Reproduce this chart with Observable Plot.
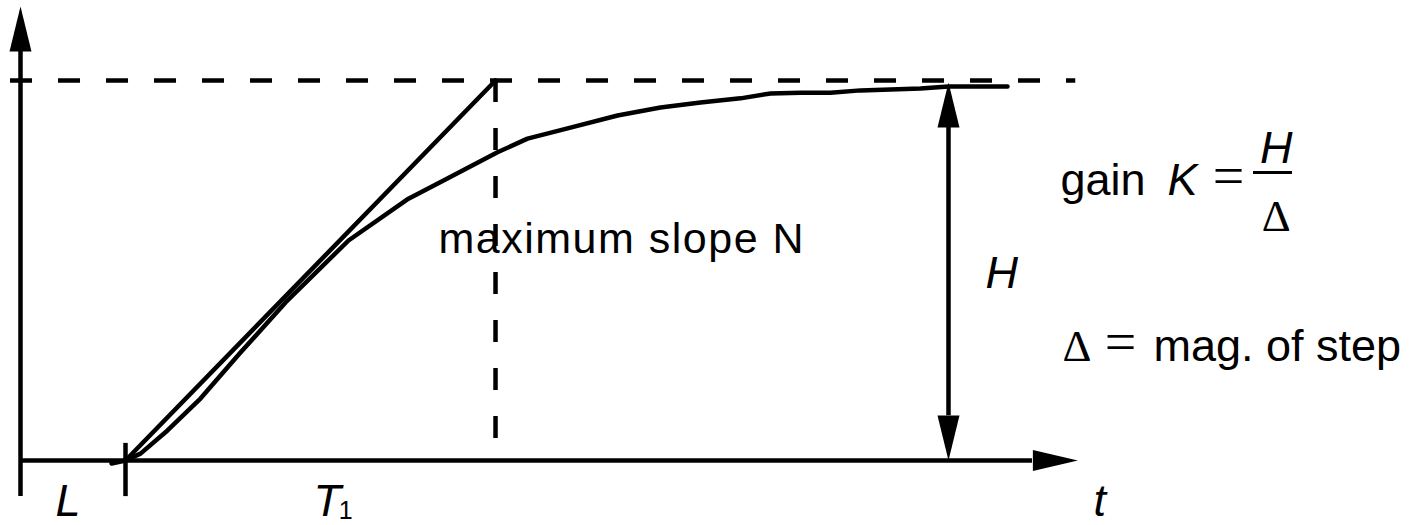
<!DOCTYPE html>
<html><head><meta charset="utf-8">
<script src="https://cdn.jsdelivr.net/npm/d3@7"></script>
<script src="https://cdn.jsdelivr.net/npm/@observablehq/plot@0.6"></script>
<style>body{margin:0;background:#fff}svg{display:block}</style>
</head><body><div id="chart"></div>
<script>
// ---- data (time t, response v; H = 1) ----
const lagL = 1.0;          // dead time L
const tangentEnd = 4.524;  // L + T1
const gainH = 1.0;         // final value H
const hMarkerT = 8.838;    // where the H double arrow sits
const curveT = [0.867, 1.0, 1.143, 1.4, 1.714, 2.095, 2.524, 3.124, 3.695, 4.029, 4.543, 4.829, 5.238, 5.686, 6.095, 6.476, 6.857, 7.143, 7.429, 7.714, 8.0, 8.571, 8.838, 9.4];
const curveV = [-0.008, 0, 0.018, 0.079, 0.163, 0.284, 0.416, 0.579, 0.689, 0.737, 0.811, 0.847, 0.876, 0.908, 0.929, 0.942, 0.953, 0.966, 0.968, 0.968, 0.974, 0.979, 0.984, 0.984];
const tangentT = [lagL, tangentEnd];
const tangentV = [0, gainH];
const axisTEnd = 9.638, axisTTip = 10.07;
const axisVEnd = 1.076, axisVTip = 1.195, axisVBottom = -0.095;
const labelTexts = ["maximum slope N", "gain", "K", "=", "H", "Δ", "H", "Δ", "=", "mag. of step", "L", "T", "1", "t"];

// ---- helpers ----
const curve = curveT.map((t, i) => ({t, v: curveV[i]}));
const tangent = tangentT.map((t, i) => ({t, v: tangentV[i]}));
const sym = (pts) => ({draw(ctx) { ctx.moveTo(pts[0][0], pts[0][1]); for (const p of pts.slice(1)) ctx.lineTo(p[0], p[1]); ctx.closePath(); }});
const upHead = sym([[0,0],[11,45],[-11,45]]);
const downHead = sym([[0,0],[11,-45],[-11,-45]]);
const rightHead = sym([[0,0],[-45,-10.5],[-45,10.5]]);
const SANS = "Liberation Sans, Arial, sans-serif";
const SERIF = "Liberation Serif, Times New Roman, serif";
const txt = (text, t, v, o = {}) => Plot.text([{text, t, v}], {x: "t", y: "v", text: "text", lineAnchor: "bottom", textAnchor: "start", fill: "black", fontSize: 45, fontFamily: SANS, ...o});
const SW = 4.5;

const plot = Plot.plot({
  width: 1410, height: 525,
  marginTop: 0, marginRight: 0, marginBottom: 0, marginLeft: 0,
  x: {domain: [-20/105, 1390/105], axis: null},
  y: {domain: [-65/380, 460/380], axis: null},
  style: {background: "white", overflow: "visible"},
  marks: [
    // dashed guides
    Plot.ruleY([gainH], {x1: -0.095, x2: 10.05, stroke: "black", strokeWidth: SW, strokeDasharray: "22,26"}),
    Plot.ruleX([tangentEnd], {y1: gainH, y2: 0, stroke: "black", strokeWidth: SW, strokeDasharray: "22,26"}),
    // axes
    Plot.ruleX([0], {y1: axisVBottom, y2: axisVEnd, stroke: "black", strokeWidth: SW}),
    Plot.ruleY([0], {x1: 0, x2: axisTEnd, stroke: "black", strokeWidth: SW}),
    Plot.dot([{t: 0, v: axisVTip}], {x: "t", y: "v", symbol: upHead, fill: "black", stroke: "none"}),
    Plot.dot([{t: axisTTip, v: 0}], {x: "t", y: "v", symbol: rightHead, fill: "black", stroke: "none"}),
    // L tick
    Plot.ruleX([lagL], {y1: 0.045, y2: axisVBottom, stroke: "black", strokeWidth: SW}),
    // tangent & response
    Plot.line(tangent, {x: "t", y: "v", stroke: "black", strokeWidth: SW}),
    Plot.line(curve, {x: "t", y: "v", stroke: "black", strokeWidth: SW, strokeLinejoin: "round"}),
    // H double arrow
    Plot.ruleX([hMarkerT], {y1: 0.118, y2: 0.882, stroke: "black", strokeWidth: SW}),
    Plot.dot([{t: hMarkerT, v: 0.995}], {x: "t", y: "v", symbol: upHead, fill: "black", stroke: "none"}),
    Plot.dot([{t: hMarkerT, v: 0}], {x: "t", y: "v", symbol: downHead, fill: "black", stroke: "none"}),
    // fraction bar
    Plot.ruleY([0.758], {x1: 11.743, x2: 12.114, stroke: "black", strokeWidth: 3}),
    // labels
    txt(labelTexts[0], 3.981, 0.547, {fontSize: 43}),
    txt(labelTexts[1], 9.905, 0.700),
    txt(labelTexts[2], 10.924, 0.700, {fontStyle: "italic"}),
    txt(labelTexts[3], 11.505, 0.700, {fontFamily: SERIF, textAnchor: "middle", fontSize: 56}),
    txt(labelTexts[4], 11.96, 0.784, {fontStyle: "italic", textAnchor: "middle"}),
    txt(labelTexts[5], 11.96, 0.605, {fontFamily: SERIF, textAnchor: "middle", fontSize: 45}),
    txt(labelTexts[6], 9.19, 0.453, {fontStyle: "italic"}),
    txt(labelTexts[7], 9.924, 0.263, {fontFamily: SERIF, fontSize: 45}),
    txt(labelTexts[8], 10.476, 0.263, {fontFamily: SERIF, textAnchor: "middle", fontSize: 56}),
    txt(labelTexts[9], 10.79, 0.263),
    txt(labelTexts[10], 0.333, -0.145, {fontStyle: "italic"}),
    txt(labelTexts[11], 2.79, -0.145, {fontStyle: "italic"}),
    txt(labelTexts[12], 3.03, -0.155, {fontSize: 25}),
    txt(labelTexts[13], 10.22, -0.145, {fontStyle: "italic"})
  ]
});
d3.select(plot).selectAll("text").filter(function() { return this.textContent === labelTexts[0]; }).style("letter-spacing", "1.5px");
document.getElementById("chart").appendChild(plot);
</script>
</body></html>
